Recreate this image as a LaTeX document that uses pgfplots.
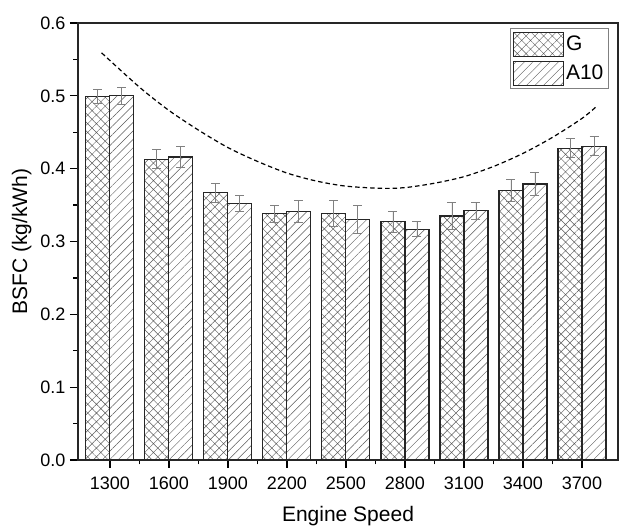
\documentclass[border=0pt]{standalone}
\usepackage{fontspec}
\setmainfont{Liberation Sans}
\usepackage{pgfplots}
\usepackage{pgfplotstable}
\pgfplotsset{compat=1.18}
\usetikzlibrary{patterns.meta}

% engine speed index, value, error
\pgfplotstableread{
x  y      e
0  0.499  0.010
1  0.413  0.013
2  0.367  0.013
3  0.338  0.012
4  0.338  0.018
5  0.327  0.014
6  0.335  0.019
7  0.370  0.015
8  0.428  0.013
}\gdata
\pgfplotstableread{
x  y      e
0  0.500  0.012
1  0.416  0.014
2  0.352  0.011
3  0.341  0.015
4  0.330  0.019
5  0.317  0.010
6  0.342  0.012
7  0.379  0.016
8  0.431  0.013
}\adata

\begin{document}
\begin{tikzpicture}
\begin{axis}[
    scale only axis,
    width=540pt, height=437pt,
    xmin=-0.54, xmax=8.61,
    ymin=0, ymax=0.6,
    xtick={0,...,8},
    xticklabel={\pgfmathparse{int(1300+300*\tick)}\pgfmathresult},
    minor x tick num=1,
    ytick={0,0.1,...,0.6},
    minor y tick num=1,
    yticklabel={\pgfmathprintnumber[fixed,fixed zerofill,precision=1,assume math mode=true]{\tick}},
    tick align=outside,
    xtick pos=left, ytick pos=left,
    major tick length=8pt, minor tick length=4.5pt,
    every tick/.style={black, line width=1.3pt},
    axis line style={line width=1.8pt, black!85},
    tick label style={font=\fontsize{18}{21}\selectfont},
    xticklabel style={yshift=-5pt},
    yticklabel style={xshift=-1pt},
    label style={font=\fontsize{21}{25}\selectfont},
    xlabel={Engine Speed},
    ylabel={BSFC (kg/kWh)},
    xlabel style={yshift=-10pt},
    ylabel style={yshift=2pt},
    legend style={at={(0.983,0.988)}, anchor=north east, draw=gray,
        line width=0.8pt, font=\fontsize{21}{25}\selectfont,
        row sep=4pt, inner xsep=3pt, inner ysep=3pt},
    legend cell align=left,
    legend image code/.code={\draw[#1] (0pt,-12pt) rectangle (50pt,12pt);},
    error bars/error bar style={gray, line width=0.9pt},
    error bars/error mark options={rotate=90, mark size=4.5pt, gray, line width=0.9pt},
]
\addplot[ybar, bar width=24pt, bar shift=0pt, draw=black!85, line width=1.1pt,
    pattern={Hatch[angle=45, distance=6.2pt, line width=0.45pt]}, pattern color=black!65,
    error bars/.cd, y dir=both, y explicit]
    table[x expr=\thisrow{x}-0.2033, y=y, y error=e]{\gdata};
\addlegendentry{G}
\addplot[ybar, bar width=24pt, bar shift=0pt, draw=black!85, line width=1.1pt,
    pattern={Lines[angle=45, distance=6pt, line width=0.45pt]}, pattern color=black!65,
    error bars/.cd, y dir=both, y explicit]
    table[x expr=\thisrow{x}+0.2033, y=y, y error=e]{\adata};
\addlegendentry{A10}
\addplot[black, line width=1.2pt, dash pattern=on 4.5pt off 3pt, smooth, forget plot] coordinates {
    (-0.14,0.559) (0.5,0.512) (1,0.480) (1.5,0.453) (2,0.429) (2.5,0.410)
    (3,0.394) (3.5,0.383) (4,0.376) (4.6,0.373) (5,0.374) (5.5,0.380)
    (6,0.389) (6.5,0.403) (7,0.421) (7.5,0.443) (8,0.469) (8.24,0.485)
};
\end{axis}
\pgfresetboundingbox
\path ([xshift=-78pt,yshift=-67pt]current axis.south west) rectangle ([xshift=1pt,yshift=23pt]current axis.north east);
\end{tikzpicture}
\end{document}
